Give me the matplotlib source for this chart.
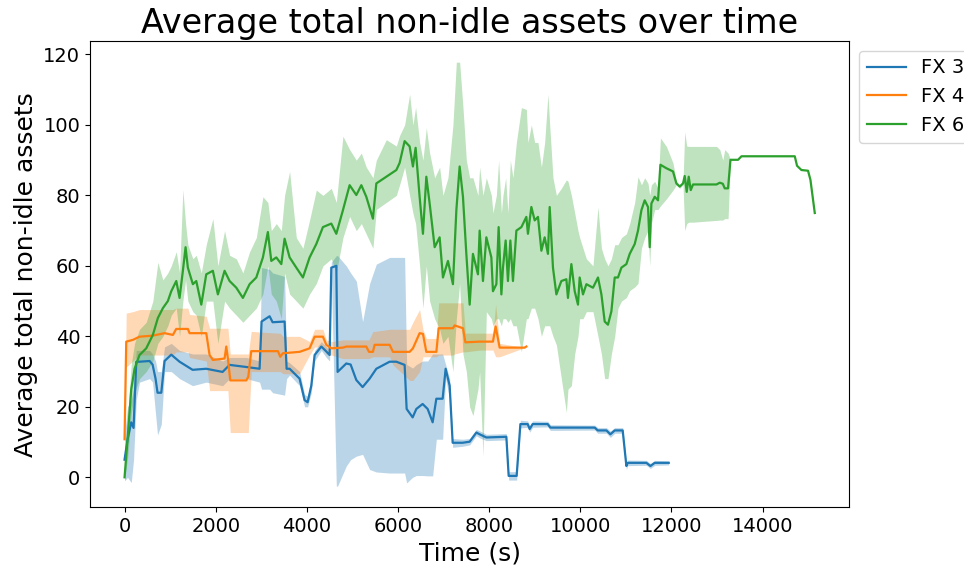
import matplotlib
matplotlib.use("Agg")
import matplotlib.pyplot as plt

# FX 3 (blue): time, mean, lower, upper
fx3_t = [0, 66, 147, 198, 257, 329, 549, 615, 680, 724, 806, 878, 1025, 1207, 1493, 1793,
         2151, 2305, 2671, 2963, 3007, 3183, 3249, 3512, 3556, 3622, 3841, 3951, 4017, 4098,
         4171, 4318, 4427, 4500, 4537, 4647, 4675, 4866, 4961, 5086, 5224, 5378, 5525, 5817,
         5964, 6146, 6190, 6322, 6403, 6541, 6651, 6761, 6842, 6980, 7046, 7134, 7200, 7419,
         7573, 7720, 7792, 7939, 8378, 8429, 8604, 8686, 8846, 8890, 8956, 9285, 9344, 10317,
         10383, 10574, 10661, 10756, 10931, 11012, 11041, 11451, 11539, 11634, 11941]
fx3_mean = [5, 10.7, 15.6, 14, 32.8, 32.8, 33, 32, 28, 24, 24, 33, 34.8, 32.8, 30.5, 30.8,
            29.9, 31.9, 31.3, 30.8, 44.2, 45.7, 44, 44.2, 30.8, 30.8, 28, 21.9, 21.3, 26,
            34.7, 37.1, 35.7, 34.7, 59.5, 60, 29.9, 32.3, 32, 27.6, 25.6, 28, 30.8, 32.8,
            32.8, 31.9, 19.4, 17, 19.4, 20.8, 19.4, 15.6, 22.3, 22.3, 30.8, 26, 9.8, 9.8,
            10.1, 12.7, 12.2, 11.3, 11.5, 0.4, 0.4, 15.1, 15.1, 13.7, 15.1, 15.1, 14.1, 14.1,
            13.3, 13.3, 12.2, 13.3, 13.3, 3.2, 4.1, 4.1, 3.2, 4.1, 4.1]
fx3_lo = [-1, 0, -1.5, 5, 22, 27, 28, 27, 18, 12, 15, 30, 30, 28, 26, 27,
          26, 28, 28, 27, 25, 25, 24, 23.3, 28, 29, 26, 20, 20, 24,
          33, 36, 34, 33, 58, -2.5, -2.5, 3.2, 5, 6, 6.5, 2.2, 1.5, 1.2,
          1.2, 1.2, -1.6, 0, 0.5, 0.5, 0.4, 0.4, 10.8, 10.8, 28, 22, 8.5, 8.8,
          9.2, 11.8, 11.2, 10.4, 10.6, -0.8, -0.8, 14, 14.2, 12.8, 14.2, 14.3, 13.3, 13.4,
          12.5, 12.5, 11.3, 12.5, 12.5, 2.2, 3.3, 3.4, 2.5, 3.4, 3.5]
fx3_hi = [12, 20, 22, 25, 36, 36, 36, 35, 33, 30, 30, 37, 38, 36, 35, 35,
          33, 34, 34, 33, 59.5, 59, 58, 57, 33, 32.5, 30, 23.5, 23, 28,
          36, 38.5, 37, 36, 61, 62.9, 62.9, 60, 58, 55.7, 44.2, 55, 60.5, 62.4,
          62.4, 62.4, 32, 31, 32, 33, 33, 35, 35, 35, 32, 28, 11, 10.8,
          11, 13.6, 13.2, 12.2, 12.4, 1.6, 1.6, 16.2, 16, 14.6, 16, 15.9, 14.9, 14.8,
          14.1, 14.1, 13.1, 14.1, 14.1, 4.2, 4.9, 4.8, 3.9, 4.8, 4.7]

# FX 4 (orange)
fx4_t = [0, 37, 183, 329, 621, 878, 1061, 1134, 1390, 1427, 1793, 1866, 1939, 2195, 2232,
         2268, 2320, 2671, 2715, 2780, 3365, 3417, 3475, 3841, 4061, 4171, 4353, 4427, 4537,
         4792, 4866, 5305, 5363, 5450, 5488, 5817, 5890, 6256, 6328, 6475, 6548, 6622, 6842,
         6893, 7206, 7243, 7426, 7479, 7792, 8084, 8143, 8231, 8780, 8817]
fx4_mean = [10.8, 38.5, 39, 39.9, 40.2, 40.9, 40.4, 42.1, 42.1, 40.9, 40.9, 34.7, 33.3, 33.7, 37.1,
            33.7, 27.5, 27.5, 28.5, 35.8, 35.8, 34.2, 35.2, 35.6, 36.6, 39.9, 39.9, 37.6, 36.6,
            36.8, 37.1, 37.1, 35.6, 35.6, 37.6, 37.6, 35.6, 35.6, 36.6, 40.9, 40.7, 35.6, 35.6,
            42.3, 42.3, 43.1, 42.3, 38.3, 38.5, 38.5, 42.8, 36.8, 36.8, 37.1]
fx4_lo = [8, 31.3, 33, 34.7, 34.7, 34.7, 34.7, 35.6, 35.6, 34, 33, 24.6, 24.6, 24.6, 24.6,
          24.6, 12.7, 12.7, 12.7, 30, 30, 30, 29.4, 29.4, 34.7, 37, 37, 35, 34.7,
          33.7, 33.7, 33.7, 33.7, 34.2, 34.2, 34.2, 31.9, 27.5, 27.5, 30, 34.2, 34.2, 34.2,
          34.7, 34.7, 35, 35.6, 35.6, 36.1, 36.1, 34.2, 34.2, 36.8, 37.1]
fx4_hi = [14, 46.6, 47, 47.6, 47.6, 47.6, 47.6, 48, 48, 46.2, 45.7, 42.3, 42.3, 42.3, 42.3,
          42.3, 35, 35, 35, 41.4, 40.9, 40.9, 40, 40, 38.5, 42, 42, 39, 38.5,
          39, 39, 39, 39, 41.4, 41.4, 42, 42, 42, 44, 47.6, 42, 39.4, 39.4,
          49.5, 49.5, 49.5, 49.5, 40.9, 40.9, 40.9, 49, 38, 36.8, 37.1]

# FX 6 (green)
fx6_t = [0, 72, 147, 220, 329, 476, 621, 731, 841, 950, 1025, 1135, 1207, 1280, 1339, 1389,
         1499, 1574, 1684, 1793, 1938, 2048, 2195, 2305, 2452, 2597, 2744, 2891, 3036, 3145,
         3220, 3330, 3440, 3512, 3622, 3769, 3914, 4061, 4208, 4353, 4537, 4647, 4792, 4939,
         5086, 5196, 5305, 5450, 5525, 5744, 5964, 6036, 6146, 6256, 6328, 6387, 6475, 6548,
         6622, 6695, 6805, 6914, 6987, 7097, 7206, 7281, 7353, 7426, 7500, 7573, 7645, 7755,
         7792, 7865, 7939, 8049, 8084, 8159, 8209, 8269, 8304, 8363, 8413, 8466, 8523, 8598,
         8708, 8817, 8852, 8927, 9000, 9072, 9147, 9219, 9291, 9329, 9401, 9476, 9585, 9695,
         9730, 9805, 9878, 9950, 9987, 10060, 10134, 10279, 10389, 10464, 10536, 10608, 10683,
         10756, 10828, 10903, 11012, 11085, 11195, 11267, 11342, 11414, 11487, 11524, 11561,
         11634, 11706, 11759, 11890, 12035, 12109, 12182, 12255, 12292, 12336, 12380, 12424,
         12475, 12989, 13062, 13128, 13170, 13243, 13296, 13463, 13537, 14707, 14757, 14853,
         14998, 15051, 15146]
fx6_mean = [0, 11.8, 25, 30.8, 34.7, 36.6, 40.4, 45.2, 48, 50, 52.8, 55.7, 50.9, 58.6, 65.3, 59.5,
            54.8, 55.7, 49, 57.6, 58.6, 51.9, 58.6, 55.7, 53.8, 50.9, 54.8, 56.7, 62.4, 69.6,
            61.4, 62.4, 60.5, 67.7, 62.4, 59.5, 56.7, 62.4, 66.2, 71, 72, 69.1, 75.8, 82.9,
            80.1, 82.9, 79.6, 73.4, 83.4, 85.3, 87.2, 89.2, 95.4, 93.9, 88.2, 93.5, 79.6, 69.1,
            85.3, 77.7, 65.3, 68.1, 56.7, 61.4, 54.8, 75.8, 88.2, 79.6, 63.4, 49, 63.4, 57.6,
            70, 55.7, 68.1, 62.4, 52.8, 54.8, 71, 51.9, 59.5, 67.2, 55.7, 67.2, 55.7, 70,
            71, 73.9, 69.1, 76.7, 72.9, 73.9, 64.3, 68.1, 63.4, 76.7, 59.5, 51.9, 55.7, 56.2,
            50.9, 60.5, 52.8, 49, 56.7, 51.9, 54.8, 53.8, 56.7, 51.9, 44.2, 43.3, 47.1,
            56.7, 56.7, 59.5, 60.5, 63.4, 66.2, 70, 75.8, 78.6, 76.7, 65.3, 77.7,
            79.6, 78.6, 88.7, 87.7, 86.8, 83.4, 82.5, 83.4, 85.5, 81, 85.3, 81.5,
            83.1, 83.1, 83.6, 83.3, 82, 82, 90.1, 90.1, 91.1, 91.1, 88.4, 87.2,
            87, 84.4, 75]
fx6_lo = [-1, 6, 18, 24, 28, 30, 33, 38, 40, 43, 46, 48, 40, 50, 56, 50,
          47, 46, 40, 50, 50, 38, 50, 48, 46, 44, 46, 48, 52, 60,
          52, 50, 45, 58, 52, 50, 48, 52, 55, 60, 62, 58, 68, 74,
          70, 72, 69, 65, 76, 78, 80, 83, 88, 80, 75, 72, 60, 48,
          60, 50, 45, 42, 38, 40, 30, 45, 55, 35, 30, 20, 17.5, 25,
          30, 6, 47, 45, 43, 45, 45, 43, 45, 45, 44, 45, 43, 43,
          35.6, 45, 45, 48, 48, 45, 40, 43, 43, 43, 40, 37.6, 28, 18.4,
          25, 26, 35, 40, 45, 45, 47, 47, 40, 35, 28, 28, 35,
          40, 48, 50, 51, 53, 54, 55, 65, 68, 70, 60, 72,
          76, 76, 77, 79, 81.5, 83, 82, 83, 70, 72, 72.4, 72.4,
          72.4, 72.9, 73, 73, 73.4, 73.4, 90.1, 90.1, 91.1, 91.1, 88.4, 87.2,
          87, 84.4, 75]
fx6_hi = [2, 18, 32, 38, 42, 44, 50, 61, 56, 58, 60, 64, 58, 81.6, 72, 66,
          62, 63, 58, 66, 73.4, 60, 70, 63, 62, 58, 64, 68, 79.6, 78,
          70, 72, 70, 80, 86.8, 68, 65, 73, 81.5, 80, 82, 78, 96.8, 93,
          90, 92, 88, 85, 90, 95.8, 94, 97, 100, 108.7, 100, 105, 95, 90,
          99.2, 92, 85, 88, 80, 85, 100, 117.8, 117.8, 105, 90, 85, 85, 80,
          88, 80, 85, 80, 75, 80, 90, 75, 80, 85, 75, 90, 85, 95,
          104.9, 104.4, 95, 100, 95, 95, 88, 95, 108.7, 100, 85, 80, 82, 84.4,
          84, 80, 75, 70, 68, 65, 62, 60, 76.7, 65, 62, 60, 62,
          66, 66, 68, 69.1, 72, 78, 85.3, 83, 85, 83.4, 80, 83,
          84, 82, 96.3, 93.9, 89.2, 84, 83, 84, 98, 94, 93.9, 93.9,
          93.9, 93.9, 93, 90, 93, 92, 90.1, 90.1, 91.1, 91.1, 88.4, 87.2,
          87, 84.4, 75]

series = [
    ("FX 3", fx3_t, fx3_mean, fx3_lo, fx3_hi, "tab:blue"),
    ("FX 4", fx4_t, fx4_mean, fx4_lo, fx4_hi, "tab:orange"),
    ("FX 6", fx6_t, fx6_mean, fx6_lo, fx6_hi, "tab:green"),
]

fig = plt.figure(figsize=(9.64, 5.67), dpi=100)
ax = fig.add_axes([0.0934, 0.1053, 0.7876, 0.8224])

for name, t, m, lo, hi, c in series:
    ax.fill_between(t, lo, hi, color=c, alpha=0.3, linewidth=0)
    ax.plot(t, m, color=c, linewidth=1.6, label=name)

ax.set_title("Average total non-idle assets over time", fontsize=24)
ax.set_xlabel("Time (s)", fontsize=18)
ax.set_ylabel("Average total non-idle assets", fontsize=18)
ax.tick_params(labelsize=14)
ax.legend(loc="upper left", bbox_to_anchor=(1.0, 1.0), fontsize=14)

fig.savefig("out.png", dpi=100)
